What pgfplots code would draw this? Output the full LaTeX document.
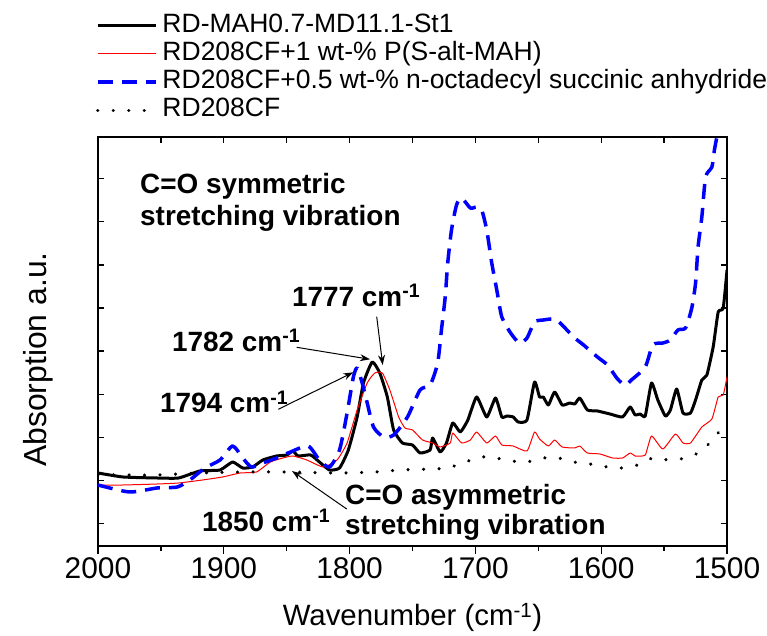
\documentclass[border=0pt]{standalone}
\usepackage{fontspec}
\setmainfont{Liberation Sans}
\usepackage{pgfplots}
\pgfplotsset{compat=1.18}
\usetikzlibrary{arrows.meta}

\begin{document}
\begin{tikzpicture}[x=1bp,y=1bp]
\useasboundingbox (0,0) rectangle (767,636);
% main axis: data, top/left/right inward ticks, y label, legend
\begin{axis}[
  at={(98bp,90bp)}, anchor=south west,
  width=629bp, height=409bp, scale only axis,
  xmin=1500, xmax=2000, x dir=reverse,
  ymin=-1, ymax=408,
  xtick={1500,1550,...,2000}, xticklabels={},
  xtick pos=right,
  ytick={21.5,64.6,107.7,150.8,193.9,237,280.1,323.2,366.3}, yticklabels={},
  ytick pos=both,
  tick align=inside, major tick length=6bp,
  axis line style={line width=1.3bp},
  every tick/.style={black, line width=1.3bp},
  ylabel={Absorption a.u.},
  ylabel style={font=\fontsize{32}{38}\selectfont, at={(axis description cs:-0.0811,0.456)}, anchor=base},
  legend style={at={(axis description cs:0,1)}, anchor=south west, xshift=-2bp, yshift=15bp,
    draw=none, fill=none, inner sep=0bp, outer sep=0bp, column sep=5bp, row sep=5.3bp,
    font=\fontsize{26.6}{30}\selectfont,
    nodes={inner sep=0bp, text height=18bp, text depth=5bp}},
  legend cell align=left,
  legend image code/.code={\draw[#1] (0bp,0bp) -- (58bp,0bp);},
]
\addplot[black, line width=3bp, smooth, tension=0.3, line join=round] coordinates {
(2000,72) (1980,68) (1953,67) (1936,67) (1919,74) (1903,75) (1893,83) (1885,77) (1877,78) (1869,85)
(1858,89) (1850,90) (1845,94) (1841,89) (1831,90) (1824,83) (1816,75) (1808,77) (1801,95) (1794,128)
(1789,162) (1782,183) (1776,172) (1770,148) (1765,115) (1758,102) (1750,100) (1744,92) (1736,95) (1734,107)
(1728,93) (1723,102) (1718,122) (1712,113) (1706,125) (1699,148) (1691,128) (1684,147) (1679,128) (1675,129)
(1670,128) (1666,123) (1659,125) (1653,163) (1649,148) (1646,148) (1642,140) (1637,153) (1631,140) (1625,142)
(1621,141) (1617,147) (1611,135) (1603,134) (1593,131) (1583,128) (1577,138) (1573,130) (1569,131) (1565,129)
(1560,162) (1555,145) (1549,129) (1545,135) (1540,156) (1535,132) (1529,132) (1525,145) (1520,165) (1516,170)
(1511,198) (1507,233) (1503,237) (1500,275)
};
\addlegendentry{RD-MAH0.7-MD11.1-St1}
\addplot[red, line width=1bp, smooth, tension=0.3, line join=round] coordinates {
(2000,60) (1980,60) (1953,61) (1936,62) (1917,65) (1901,68) (1887,72) (1874,73) (1863,83) (1853,87)
(1845,89) (1834,85) (1821,78) (1810,85) (1802,102) (1794,135) (1786,162) (1780,172) (1774,172) (1768,155)
(1761,128) (1756,117) (1750,115) (1742,105) (1734,102) (1728,98) (1720,102) (1718,112) (1711,102) (1704,105)
(1699,113) (1691,102) (1684,109) (1679,100) (1670,99) (1659,94) (1653,113) (1649,106) (1642,99) (1637,105)
(1631,98) (1621,97) (1617,99) (1611,92) (1601,91) (1591,87) (1583,87) (1577,92) (1573,89) (1565,90)
(1560,109) (1551,96) (1541,111) (1535,102) (1529,102) (1520,118) (1512,126) (1507,148) (1503,150) (1500,168)
};
\addlegendentry{RD208CF+1 wt-\% P(S-alt-MAH)}
\addplot[color={rgb,255:red,0;green,0;blue,255}, line width=3.5bp, dash pattern=on 15bp off 9bp, smooth, tension=0.4, line join=round] coordinates {
(2000,60) (1975,53) (1953,57) (1937,58) (1927,65) (1915,77) (1903,85) (1893,99) (1885,87) (1878,78)
(1869,82) (1858,87) (1847,93) (1833,99) (1824,85) (1816,78) (1808,95) (1802,132) (1797,168) (1794,177)
(1790,162) (1786,142) (1781,118) (1773,108) (1765,110) (1754,128) (1744,155) (1736,160) (1730,182) (1727,215)
(1724,248) (1722,282) (1719,315) (1715,340) (1711,347) (1704,337) (1699,338) (1695,335) (1691,315) (1687,282)
(1683,255) (1679,228) (1672,212) (1665,202) (1659,207) (1653,223) (1646,225) (1637,226) (1631,220) (1622,208)
(1614,200) (1603,188) (1595,180) (1587,166) (1581,160) (1576,165) (1565,178) (1559,200) (1551,202) (1545,205)
(1539,215) (1533,217) (1528,237) (1525,262) (1523,298) (1520,328) (1517,368) (1512,378) (1510,395) (1507,415)
};
\addlegendentry{RD208CF+0.5 wt-\% n-octadecyl succinic anhydride}
\addplot[black, line width=3.5bp, line cap=round, dash pattern=on 0.01bp off 15.5bp, smooth, tension=0.4] coordinates {
(2000,70) (1975,70) (1953,70) (1920,72) (1880,73) (1850,73) (1810,72) (1780,73) (1760,75) (1734,76)
(1722,77) (1710,82) (1696,88) (1684,87) (1671,84) (1659,83) (1646,87) (1634,87) (1622,83) (1609,81)
(1595,78) (1583,77) (1571,80) (1559,87) (1546,85) (1533,87) (1520,94) (1510,108) (1500,122)
};
\addlegendentry{RD208CF}
\end{axis}
% bottom axis: outward ticks, tick labels, x label
\begin{axis}[
  at={(98bp,90bp)}, anchor=south west,
  width=629bp, height=409bp, scale only axis,
  xmin=1500, xmax=2000, x dir=reverse,
  ymin=0, ymax=1,
  hide y axis,
  axis line style={line width=1.3bp},
  every tick/.style={black, line width=1.3bp},
  xtick={1500,1600,...,2000}, minor xtick={1550,1650,...,1950},
  xtick pos=left, tick align=outside, major tick length=8bp, minor tick length=5bp,
  /pgf/number format/1000 sep={},
  /pgf/number format/assume math mode=true,
  xticklabel style={font=\fontsize{30}{36}\selectfont},
  xlabel={Wavenumber (cm\textsuperscript{-1})},
  xlabel style={font=\fontsize{29.5}{35}\selectfont, at={(axis description cs:0.5,-0.1956)}, anchor=base},
]
\end{axis}
% annotations
\begin{scope}[font=\bfseries\fontsize{28}{33}\selectfont]
\node[anchor=base west, inner sep=0] at (140,442) {C=O symmetric};
\node[anchor=base west, inner sep=0] at (140,410) {stretching vibration};
\node[anchor=base west, inner sep=0] at (292,329.3) {1777 cm\textsuperscript{-1}};
\node[anchor=base west, inner sep=0] at (172,284.3) {1782 cm\textsuperscript{-1}};
\node[anchor=base west, inner sep=0] at (160,223) {1794 cm\textsuperscript{-1}};
\node[anchor=base west, inner sep=0] at (202,104.3) {1850 cm\textsuperscript{-1}};
\node[anchor=base west, inner sep=0] at (345,131) {C=O asymmetric};
\node[anchor=base west, inner sep=0] at (345,101) {stretching vibration};
\end{scope}
\begin{scope}[line width=1bp, -{Stealth[length=10bp,width=7bp]}]
\draw (376.7,319.3) -- (382.7,271);
\draw (296.7,288.7) -- (370,276.7);
\draw (278.3,226.7) -- (353.3,263.7);
\draw (346.7,127) -- (292,165);
\end{scope}
\end{tikzpicture}
\end{document}
